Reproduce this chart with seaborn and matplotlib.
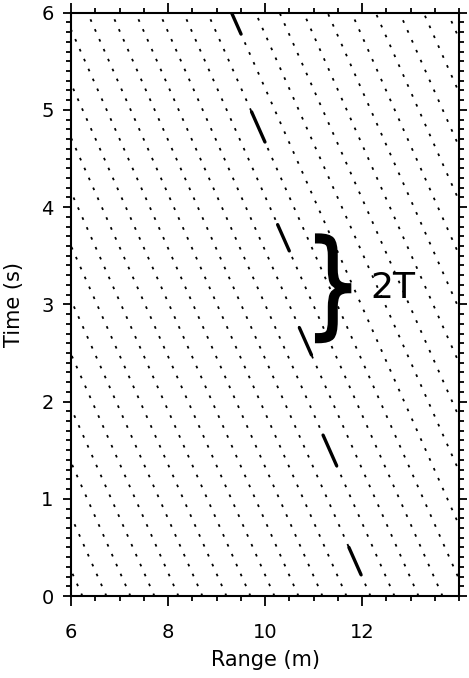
import numpy as np
import pandas as pd
import matplotlib
matplotlib.use('Agg')
import matplotlib.pyplot as plt
import seaborn as sns
from matplotlib.ticker import MultipleLocator
from matplotlib.textpath import TextPath
from matplotlib.patches import PathPatch
from matplotlib.font_manager import FontProperties
from matplotlib.transforms import Affine2D

# phase lines (dotted): range at t = 0 of each crest, and phase speed
phase_speed = 0.89  # m/s, crests move toward smaller range
crest_x0 = [6.235, 6.73, 7.225, 7.72, 8.215, 8.71, 9.205, 9.70, 10.195,
            10.69, 11.185, 11.68, 12.175, 12.67, 13.165, 13.66, 14.155,
            14.65, 15.145, 15.64, 16.135, 16.63, 17.125, 17.62, 18.115,
            18.61, 19.105]
t_span = [0.0, 6.0]

# group (dashed): the bit of each crest that sits inside the wave group
dash_x0 = [12.175, 12.67, 13.165, 13.66, 14.155, 14.65]
dash_t_start = [0.50, 1.655, 2.76, 3.82, 4.98, 6.09]
dash_t_end = [0.22, 1.34, 2.48, 3.55, 4.67, 5.78]

rows = []
for i, x0 in enumerate(crest_x0):
    for t in t_span:
        rows.append({'line': i, 'Range': x0 - phase_speed * t, 'Time': t})
crests = pd.DataFrame(rows)

rows = []
for i, x0 in enumerate(dash_x0):
    for t in (dash_t_start[i], dash_t_end[i]):
        rows.append({'line': i, 'Range': x0 - phase_speed * t, 'Time': t})
group = pd.DataFrame(rows)

sns.set_style('ticks')
plt.rcParams['font.family'] = ['DejaVu Sans']
plt.rcParams['text.color'] = 'black'
plt.rcParams['axes.labelcolor'] = 'black'
plt.rcParams['xtick.color'] = 'black'
plt.rcParams['ytick.color'] = 'black'

fig = plt.figure(figsize=(4.69, 6.78), dpi=100)
ax = fig.add_axes([0.1514, 0.1209, 0.8273, 0.8604])

sns.lineplot(data=crests, x='Range', y='Time', units='line', estimator=None,
             sort=False, color='black', linewidth=1.3,
             linestyle=(0, (1.5, 4.5)), ax=ax)
sns.lineplot(data=group, x='Range', y='Time', units='line', estimator=None,
             sort=False, color='black', linewidth=2.4, ax=ax)

# brace over two periods (glyph squeezed into a box) and its label
brace_box = [11.05, 11.76, 2.61, 3.72]  # x0, x1, t0, t1
tp = TextPath((0, 0), '}', size=1, prop=FontProperties(family='DejaVu Sans'))
ext = tp.get_extents()
fit = (Affine2D().translate(-ext.x0, -ext.y0)
       .scale((brace_box[1] - brace_box[0]) / ext.width,
              (brace_box[3] - brace_box[2]) / ext.height)
       .translate(brace_box[0], brace_box[2]))
ax.add_patch(PathPatch(tp, transform=fit + ax.transData, facecolor='black',
                       edgecolor='black', linewidth=1.4, clip_on=False))
ax.text(12.64, 3.165, '2T', fontsize=26, ha='center', va='center')

ax.set_xlim(6, 14)
ax.set_ylim(0, 6)
ax.set_xticks([6, 8, 10, 12])
ax.set_yticks([0, 1, 2, 3, 4, 5, 6])
ax.xaxis.set_minor_locator(MultipleLocator(0.5))
ax.yaxis.set_minor_locator(MultipleLocator(0.1))
ax.tick_params(which='both', direction='out', top=True, right=True,
               color='black', width=1.3, labelsize=14, labelcolor='black')
ax.tick_params(axis='x', which='major', length=7.5, pad=12)
ax.tick_params(axis='y', which='major', length=5.5, pad=7)
ax.tick_params(which='minor', length=3.3)
for s in ax.spines.values():
    s.set_linewidth(1.5)
    s.set_color('black')

ax.set_xlabel('Range (m)', fontsize=15, labelpad=6)
ax.set_ylabel('Time (s)', fontsize=15, labelpad=12)

fig.savefig('out.png', dpi=100)
